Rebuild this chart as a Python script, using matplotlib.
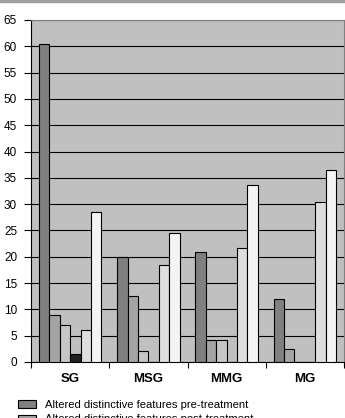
import matplotlib
matplotlib.use("Agg")
import matplotlib.pyplot as plt
import numpy as np

plt.rcParams['font.family'] = ['Liberation Sans', 'DejaVu Sans']

# groups on the x axis
groups = ["SG", "MSG", "MMG", "MG"]

# one list per series, values per group
pre_treatment = [60.5, 20.0, 20.9, 11.9]
post_treatment = [8.9, 12.6, 4.1, 2.5]
series_3 = [7.0, 2.0, 4.1, 0.0]
series_4 = [1.5, 0.0, 0.0, 0.0]
series_5 = [6.1, 18.4, 21.6, 30.5]
series_6 = [28.5, 24.5, 33.6, 36.5]

series = [pre_treatment, post_treatment, series_3, series_4, series_5, series_6]
colors = ["#808080", "#a4a4a4", "#c6c6c6", "#202020", "#dedede", "#f4f4f4"]
labels = ["Altered distinctive features pre-treatment",
          "Altered distinctive features post-treatment",
          None, None, None, None]

fig = plt.figure(figsize=(3.45, 4.18), dpi=100)
ax = fig.add_axes([31 / 345, 56 / 418, 313 / 345, 342 / 418])
ax.set_facecolor("#c0c0c0")

n = len(series)
width = 1.0 / 7.5
x = np.arange(len(groups))
for i, (vals, c, lab) in enumerate(zip(series, colors, labels)):
    offs = (i - (n - 1) / 2) * width
    ax.bar(x + offs, vals, width, color=c, edgecolor="black", linewidth=0.8,
           label=lab, zorder=3)

ax.set_xlim(-0.5, len(groups) - 0.5)
ax.set_ylim(0, 65)
ax.set_yticks(range(0, 66, 5))
ax.yaxis.grid(True, color="black", linewidth=0.8, zorder=0)
ax.set_axisbelow(True)

ax.set_xticks(x)
ax.set_xticklabels(groups, fontsize=9.5, fontweight="bold")
ax.set_xticks(np.arange(len(groups) + 1) - 0.5, minor=True)
ax.tick_params(axis="x", which="major", length=0, pad=8)
ax.tick_params(axis="x", which="minor", length=4, width=0.8, direction="out")
ax.tick_params(axis="y", labelsize=8.5, length=5, width=0.8, pad=5)

for s in ["top", "right"]:
    ax.spines[s].set_color("#808080")
    ax.spines[s].set_linewidth(0.8)
for s in ["left", "bottom"]:
    ax.spines[s].set_color("black")
    ax.spines[s].set_linewidth(0.8)

# thin gray rule along the top of the image
fig.add_artist(plt.Line2D([0, 1], [0.997, 0.997], color="#a0a0a0", linewidth=2.5))

handles, labs = ax.get_legend_handles_labels()
fig.legend(handles, labs, loc="upper left", bbox_to_anchor=(18 / 345, 18 / 418),
           frameon=False, fontsize=8.1, handlelength=1.6, handleheight=0.7,
           labelspacing=0.4, borderaxespad=0, borderpad=0, handletextpad=0.8)

fig.savefig("out.png", dpi=100)
